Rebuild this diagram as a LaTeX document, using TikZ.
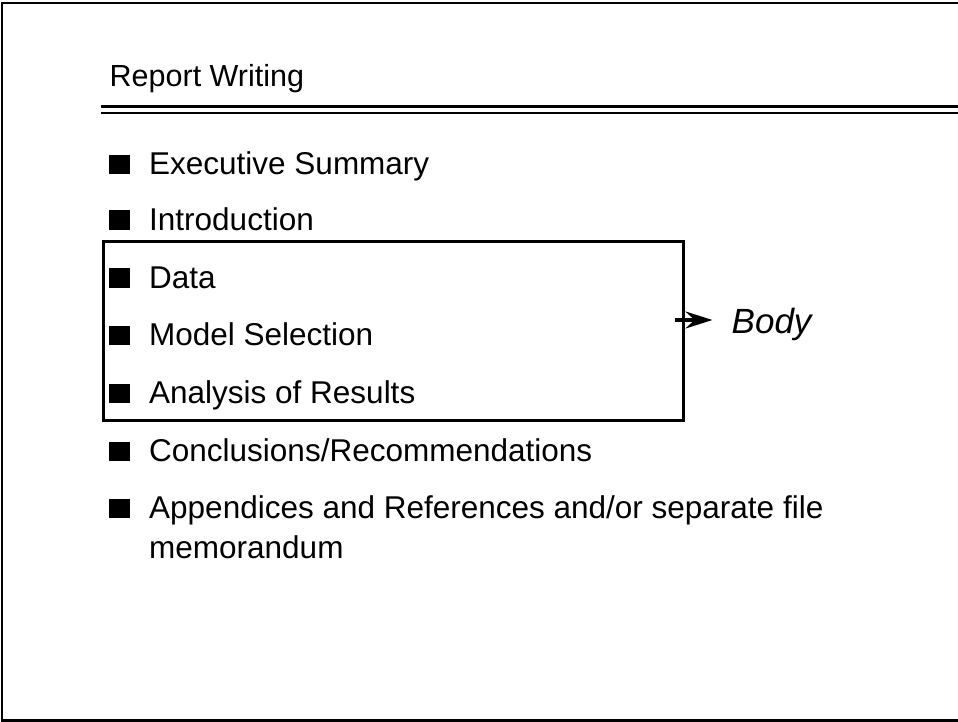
\documentclass[tikz,border=0pt]{standalone}
\usepackage{fontspec}
\setmainfont{Liberation Sans}
\usetikzlibrary{arrows.meta}

\tikzset{
  frameline/.style={line width=2.5pt},
  ruleline/.style={line width=#1},
  titletext/.style={anchor=base west, inner sep=0pt, font=\fontsize{30.5}{36}\selectfont},
  itemtext/.style={anchor=base west, inner sep=0pt, align=left,
                   font=\fontsize{31.5}{39.8}\selectfont},
  bulletsq/.style={anchor=south west, fill=black, draw=none, inner sep=0pt,
                   minimum width=20.5pt, minimum height=19.5pt},
  groupbox/.style={draw, line width=3pt, inner sep=0pt, anchor=north west},
  bodytext/.style={anchor=base west, inner sep=0pt, font=\fontsize{35}{42}\selectfont\itshape},
  bodyarrow/.style={line width=3.2pt,
                    -{Stealth[length=27pt, width=17pt, inset=9pt]}}
}

\begin{document}
\begin{tikzpicture}[x=1pt, y=-1pt]
  \useasboundingbox (0,0) rectangle (958,722);

  % page frame (open on the right)
  \draw[frameline] (958,2.8) -- (2.2,2.8) -- (2.2,720.5) -- (958,720.5);

  % heading and double rule
  \node[titletext] (title) at (109.5,86.5) {Report Writing};
  \draw[ruleline=3.6pt] (100.7,106.6) -- (958,106.6);
  \draw[ruleline=2pt]   (100.7,113.2) -- (958,113.2);

  % bullet list (single-line entries)
  \foreach \name/\yy/\txt in {
      exec/174.5/{Executive Summary},
      intro/230/{Introduction},
      data/288/{Data},
      model/345.5/{Model Selection},
      anal/403.5/{Analysis of Results},
      concl/461.5/{Conclusions/Recommendations}} {
    \node[bulletsq] (b-\name) at (108.8,\yy) {};
    \node[itemtext] (t-\name) at (149,\yy) {\txt};
  }
  % two-line entry: its base anchor sits on the last line
  \node[bulletsq] (b-appx) at (108.8,518.5) {};
  \node[itemtext] (t-appx) at (149,558.3)
    {Appendices and References and/or separate file\\memorandum};

  % grouping box around the body sections
  \node[groupbox, minimum width=580.5pt, minimum height=178.5pt] (box) at (101.5,240) {};

  % label for the grouped sections
  \node[bodytext] (body) at (731.5,333) {Body};
  \coordinate (arrowtail) at (675,320);
  \coordinate (arrowtip) at (712.5,320);
  \draw[bodyarrow] (arrowtail) -- (arrowtip);
\end{tikzpicture}
\end{document}
